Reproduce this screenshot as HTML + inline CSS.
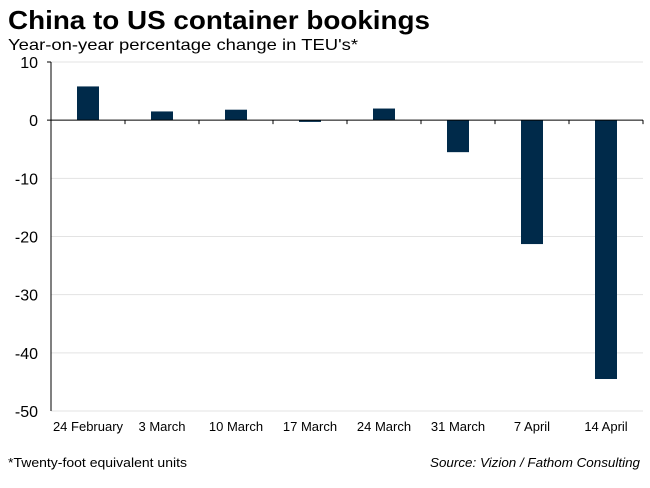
<!DOCTYPE html>
<html><head><meta charset="utf-8"><style>
body{margin:0;background:#fff;font-family:"Liberation Sans",Arial,sans-serif;}
</style></head><body>
<svg id="chart" width="650" height="483" xmlns="http://www.w3.org/2000/svg" font-family="Liberation Sans, Arial, sans-serif">
<text x="8" y="29" font-size="26" font-weight="bold" fill="#000" textLength="422" lengthAdjust="spacingAndGlyphs">China to US container bookings</text>
<text x="8" y="50" font-size="16" fill="#000" textLength="350" lengthAdjust="spacingAndGlyphs">Year-on-year percentage change in TEU's*</text>
<g id="grid"></g><g id="bars"></g><g id="axes"></g>
<text x="8" y="467" font-size="13" fill="#000" textLength="179" lengthAdjust="spacingAndGlyphs">*Twenty-foot equivalent units</text>
<text x="640" y="467" font-size="13" font-style="italic" text-anchor="end" fill="#000" textLength="210" lengthAdjust="spacingAndGlyphs">Source: Vizion / Fathom Consulting</text>
</svg>
<script>
const categories=["24 February","3 March","10 March","17 March","24 March","31 March","7 April","14 April"];
const values=[5.8,1.5,1.8,-0.3,2.0,-5.5,-21.3,-44.5];
const yTicks=[10,0,-10,-20,-30,-40,-50];
const NS="http://www.w3.org/2000/svg";
const x0=51,x1=643,yTop=62,yBot=411,vMax=10,vMin=-50;
const y=v=>yTop+(vMax-v)/(vMax-vMin)*(yBot-yTop);
const bw=(x1-x0)/categories.length;
const xc=i=>x0+bw*(i+0.5);
function mk(t,a,p){const e=document.createElementNS(NS,t);for(const k in a)e.setAttribute(k,a[k]);p.appendChild(e);return e;}
const g=document.getElementById('grid'),b=document.getElementById('bars'),ax=document.getElementById('axes');
yTicks.forEach(v=>{
 if(v!==0){const l=mk('line',{x1:x0,x2:x1,y1:y(v),y2:y(v),stroke:'#e3e3e3','stroke-width':1},g);
 
 }
 const t=mk('text',{x:38,y:y(v)+6,'font-size':16,'text-anchor':'end',fill:'#000'},ax);t.textContent=v;
 
 
});
values.forEach((v,i)=>{
 const r=mk('rect',{x:xc(i)-11,y:Math.min(y(v),y(0)),width:22,height:Math.abs(y(v)-y(0)),fill:'#002a4a'},b);
 
 
 const t=mk('text',{x:xc(i),y:431,'font-size':13,'text-anchor':'middle',fill:'#000'},ax);t.textContent=categories[i];
 
 
});
const ya=mk('line',{x1:x0,x2:x0,y1:yTop,y2:yBot,stroke:'#000','stroke-width':1},ax);


mk('line',{x1:x0-4,x2:x0,y1:yTop,y2:yTop,stroke:'#000'},ax);
const xa=mk('line',{x1:x0-4,x2:x1,y1:y(0),y2:y(0),stroke:'#000','stroke-width':1},ax);


for(let i=1;i<=categories.length;i++){mk('line',{x1:x0+bw*i,x2:x0+bw*i,y1:y(0),y2:y(0)+4,stroke:'#000'},ax);}
</script>
</body></html>
